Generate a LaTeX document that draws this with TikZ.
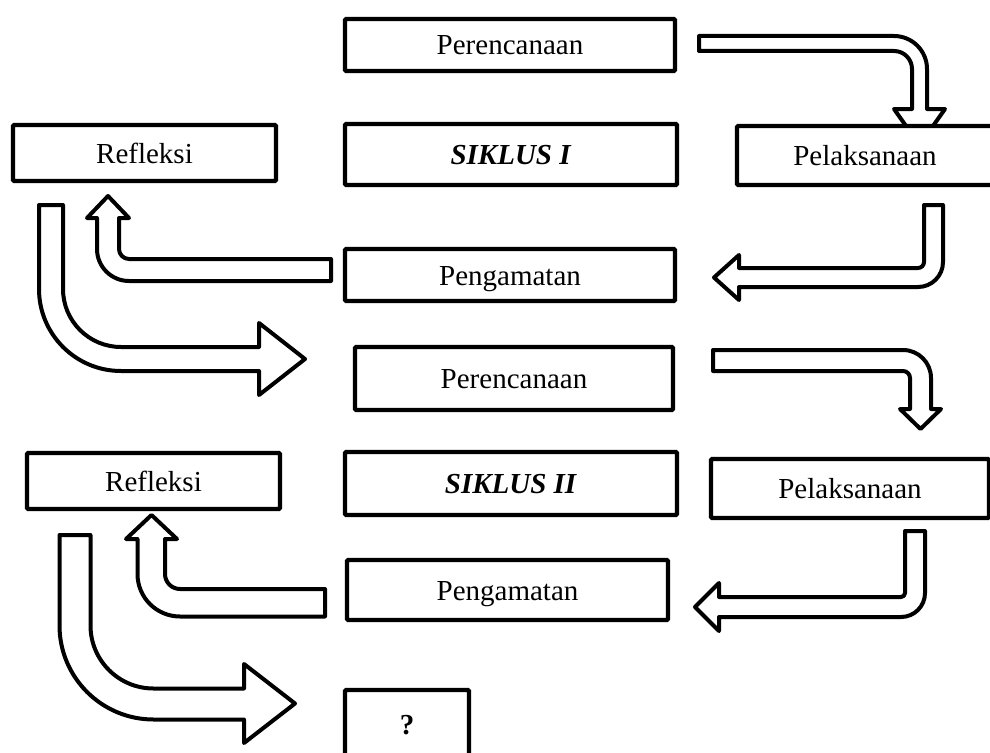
\documentclass[tikz,border=0pt]{standalone}
\usepackage{fontspec}
\setmainfont{Liberation Serif}
\tikzset{
	procbox/.style={draw, line width=4.2pt, fill=white, rounded corners=1pt, inner sep=0pt,
		text height=20pt, text depth=0pt, font=\fontsize{29}{34}\selectfont},
	blkarrow/.style={draw, line width=4pt, fill=white, line join=round},
}

\begin{document}
\begin{tikzpicture}[x=1pt, y=-1pt]
			%%%%% ARROWS %%%%%
			\useasboundingbox (0,0) rectangle (990,752);
			
			% cycle I
			\draw[blkarrow] (699,36) -- (894,36) arc[start angle=-90, end angle=0, radius=33] -- (927,109) -- (945,109) -- (919.5,145) -- (894,109) -- (912,109) -- (912,69) arc[start angle=0, end angle=-90, radius=18] -- (699,51) -- cycle;
			\draw[blkarrow] (924,205) -- (943,205) -- (943,262) arc[start angle=0, end angle=90, radius=25] -- (739,287) -- (739,300) -- (714,277.5) -- (739,255) -- (739,268) -- (918,268) arc[start angle=90, end angle=0, radius=6] -- cycle;
			\draw[blkarrow] (331,259) -- (129,259) arc[start angle=90, end angle=180, radius=10] -- (119,218) -- (129,218) -- (108,196) -- (87,218) -- (97,218) -- (97,249) arc[start angle=180, end angle=90, radius=32] -- (331,281) -- cycle;
			\draw[blkarrow] (39,205) -- (63,205) -- (63,289) arc[start angle=180, end angle=90, radius=58] -- (259,347) -- (259,323) -- (305,359) -- (259,395) -- (259,371) -- (121,371) arc[start angle=90, end angle=180, radius=82] -- cycle;
			
			% cycle II
			\draw[blkarrow] (713,350) -- (903,350) arc[start angle=-90, end angle=0, radius=28] -- (931,409) -- (941,409) -- (920.5,429) -- (900,409) -- (910,409) -- (910,378) arc[start angle=0, end angle=-90, radius=7] -- (713,371) -- cycle;
			\draw[blkarrow] (905,531) -- (925,531) -- (925,593) arc[start angle=0, end angle=90, radius=24] -- (719,617) -- (719,631) -- (695,607) -- (719,583) -- (719,597) -- (901,597) arc[start angle=90, end angle=0, radius=4] -- cycle;
			\draw[blkarrow] (325,589) -- (180,589) arc[start angle=90, end angle=180, radius=15] -- (165,539) -- (177,539) -- (151.5,515) -- (126,539) -- (137.5,539) -- (137.5,574) arc[start angle=180, end angle=90, radius=42.5] -- (325,616.5) -- cycle;
			\draw[blkarrow] (59.5,535) -- (90.5,535) -- (90.5,625.5) arc[start angle=180, end angle=90, radius=63] -- (244,688.5) -- (244,664) -- (295,703.5) -- (244,743) -- (244,719.5) -- (153.5,719.5) arc[start angle=90, end angle=180, radius=94] -- cycle;
			
			%%%%% BOXES %%%%%
			\node[procbox, minimum width=330pt, minimum height=52pt] (rencana1) at (510,45) {Perencanaan};
			\node[procbox, minimum width=263pt, minimum height=56pt] (refleksi1) at (144.5,153) {Refleksi};
			\node[procbox, minimum width=332pt, minimum height=61pt] (siklus1) at (511,154.5) {\textbf{\textit{SIKLUS I}}};
			\node[procbox, minimum width=256pt, minimum height=59pt] (laksana1) at (865,155.5) {Pelaksanaan};
			\node[procbox, minimum width=330pt, minimum height=52pt] (amat1) at (510,275) {Pengamatan};
			
			\node[procbox, minimum width=318pt, minimum height=63pt] (rencana2) at (514,378.5) {Perencanaan};
			\node[procbox, minimum width=253pt, minimum height=56pt] (refleksi2) at (153.5,481) {Refleksi};
			\node[procbox, minimum width=332pt, minimum height=63pt] (siklus2) at (511,483.5) {\textbf{\textit{SIKLUS II}}};
			\node[procbox, minimum width=278pt, minimum height=59pt] (laksana2) at (850,488.5) {Pelaksanaan};
			\node[procbox, minimum width=321pt, minimum height=60pt] (amat2) at (507.5,590) {Pengamatan};
			
			\node[procbox, minimum width=124pt, minimum height=68pt] (lanjut) at (407,724) {\textbf{?}};
			
			%%%%% END %%%%%
\end{tikzpicture}
\end{document}
